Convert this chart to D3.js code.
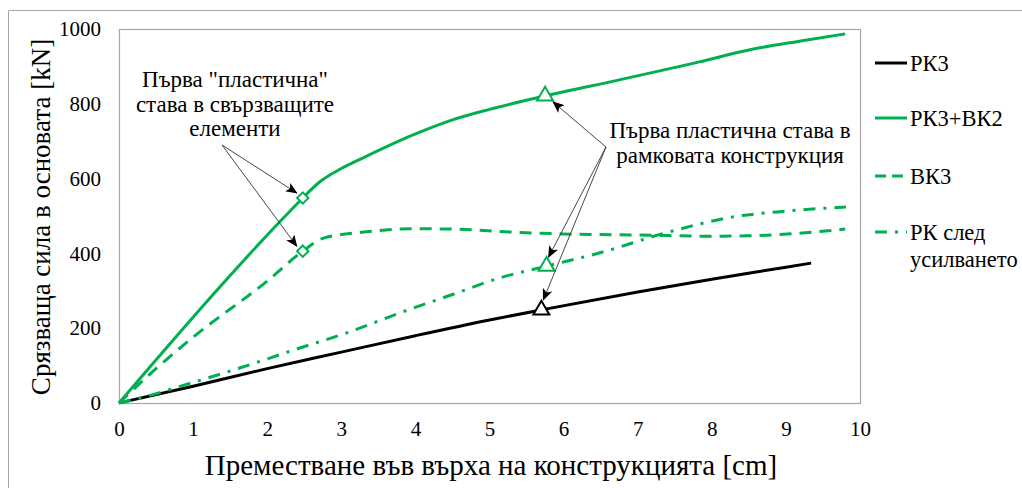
<!DOCTYPE html>
<html>
<head>
<meta charset="utf-8">
<script src="https://cdn.jsdelivr.net/npm/d3@7/dist/d3.min.js"></script>
</head>
<body style="margin:0;background:#fff">
<svg id="chart" width="1022" height="488" style="display:block"></svg>
<script>
// Base shear vs. top displacement for the frame variants
const xTicks = [0, 1, 2, 3, 4, 5, 6, 7, 8, 9, 10];
const yTicks = [0, 200, 400, 600, 800, 1000];

const seriesNames = ["РК3", "РК3+ВК2", "ВК3", "РК след усилването"];

// РК3 (bare frame)
const rk3X = [0, 1, 2, 3, 4, 5, 5.7, 7, 8, 9, 9.34];
const rk3Y = [0, 45, 92, 136, 180, 222, 249, 297, 331, 363, 374];

// РК3+ВК2 (frame with braces)
const rkbkX = [0, 2.48, 2.6, 2.72, 2.84, 3.0, 3.3, 3.96, 4.5, 5.0, 5.75, 6.75, 7.83, 8.5, 9.2, 9.8];
const rkbkY = [0, 548, 572, 593, 609, 627, 656, 716, 757, 785, 821, 864, 912, 944, 968, 987];

// ВК3 (braces only)
const bkX = [0, 0.5, 1, 2, 2.48, 2.75, 3.3, 4.0, 4.5, 5.3, 6.0, 7.0, 8.0, 8.5, 9.8];
const bkY = [0, 92, 176, 326, 406, 440, 457, 466, 465, 457, 452, 449, 446, 447, 465];

// РК след усилването (frame share after strengthening)
const rkAfterX = [0, 0.28, 1, 1.54, 2.44, 3.11, 3.79, 4.5, 5.13, 5.77, 6.48, 7.38, 8.27, 9.0, 9.81];
const rkAfterY = [0, 13, 55, 88, 147, 190, 241, 290, 334, 366, 401, 455, 497, 513, 524];

// Event markers
const diamondX = [2.48, 2.48];
const diamondY = [548, 406];
const triangleX = [5.75, 5.77, 5.7];
const triangleY = [821, 366, 249];
const triangleColor = ["#00b050", "#00b050", "#000000"];

const GREEN = "#00b050";
const FONT = '"Liberation Serif", "Times New Roman", Tinos, serif';
const svg = d3.select("#chart").style("font-family", FONT);

function txt(sel) {
  return sel.attr("font-family", "Liberation Serif").style("font-family", FONT);
}

// outer frame
svg.append("path")
  .attr("d", "M8.5,488 V10.5 H1022")
  .attr("fill", "none").attr("stroke", "#a6a6a6").attr("stroke-width", 1);

const x = d3.scaleLinear().domain([0, 10]).range([119, 860]);
const y = d3.scaleLinear().domain([0, 1000]).range([403, 29]);

// plot area border
svg.append("rect")
  .attr("x", x(0) + 0.5).attr("y", y(1000) + 0.5)
  .attr("width", x(10) - x(0)).attr("height", y(0) - y(1000))
  .attr("fill", "none").attr("stroke", "#a6a6a6").attr("stroke-width", 1.2);

// axes
const xAxis = svg.append("g").attr("transform", `translate(0,${y(0)})`)
  .call(d3.axisBottom(x).tickValues(xTicks).tickSize(0).tickPadding(18).tickFormat(d3.format("d")));
const yAxis = svg.append("g").attr("transform", `translate(${x(0)},0)`)
  .call(d3.axisLeft(y).tickValues(yTicks).tickSize(0).tickPadding(18).tickFormat(d3.format("d")));
[xAxis, yAxis].forEach(g => {
  g.select(".domain").remove();
  txt(g);
  txt(g.selectAll("text").attr("font-size", 21).attr("fill", "#000"));
});

// axis titles
txt(svg.append("text"))
  .attr("x", 491).attr("y", 475)
  .attr("text-anchor", "middle").attr("font-size", 29)
  .text("Преместване във върха на конструкцията [cm]");
txt(svg.append("text"))
  .attr("transform", "translate(44,217) rotate(-90)")
  .attr("text-anchor", "middle").attr("dominant-baseline", "middle")
  .attr("font-size", 27)
  .text("Срязваща сила в основата [kN]");

const line = d3.line().x(d => x(d[0])).y(d => y(d[1])).curve(d3.curveMonotoneX);
const zip = (xs, ys) => xs.map((v, i) => [v, ys[i]]);

const series = [
  { pts: zip(rk3X, rk3Y), color: "#000", dash: null },
  { pts: zip(rkbkX, rkbkY), color: GREEN, dash: null },
  { pts: zip(bkX, bkY), color: GREEN, dash: "12,8" },
  { pts: zip(rkAfterX, rkAfterY), color: GREEN, dash: "12,8,3,8" }
];

series.forEach(s => {
  svg.append("path")
    .attr("d", line(s.pts))
    .attr("fill", "none")
    .attr("stroke", s.color)
    .attr("stroke-width", 3)
    .attr("stroke-dasharray", s.dash);
});

// diamond markers
diamondX.forEach((dx, i) => {
  svg.append("path")
    .attr("d", d3.symbol().type(d3.symbolSquare).size(64)())
    .attr("transform", `translate(${x(dx)},${y(diamondY[i])}) rotate(45)`)
    .attr("fill", "#fff").attr("stroke", GREEN).attr("stroke-width", 2);
});

// triangle markers
triangleX.forEach((tx, i) => {
  svg.append("path")
    .attr("d", d3.symbol().type(d3.symbolTriangle).size(110)())
    .attr("transform", `translate(${x(tx)},${y(triangleY[i])})`)
    .attr("fill", "#fff").attr("stroke", triangleColor[i]).attr("stroke-width", 2);
});

// arrowhead
const defs = svg.append("defs");
defs.append("marker")
  .attr("id", "arrow").attr("viewBox", "0 0 12 10")
  .attr("refX", 11).attr("refY", 5)
  .attr("markerWidth", 12).attr("markerHeight", 10)
  .attr("markerUnits", "userSpaceOnUse")
  .attr("orient", "auto")
  .append("path").attr("d", "M0,0 L12,5 L0,10 L3,5 Z").attr("fill", "#000");

function arrow(x1, y1, x2, y2) {
  svg.append("line")
    .attr("x1", x1).attr("y1", y1).attr("x2", x2).attr("y2", y2)
    .attr("stroke", "#333").attr("stroke-width", 0.9)
    .attr("marker-end", "url(#arrow)");
}

// annotation: first plastic hinge in braces
const noteA = ["Първа \"пластична\"", "става в свързващите", "елементи"];
txt(svg.append("text")).attr("text-anchor", "middle").attr("font-size", 23)
  .selectAll("tspan").data(noteA).join("tspan")
  .attr("x", 235).attr("y", (d, i) => 87 + i * 24.5).text(d => d);
arrow(222, 145, x(diamondX[0]) - 6, y(diamondY[0]) - 5);
arrow(222, 145, x(diamondX[1]) - 6, y(diamondY[1]) - 5);

// annotation: first plastic hinge in frame
const noteB = ["Първа пластична става в", "рамковата конструкция"];
txt(svg.append("text")).attr("text-anchor", "middle").attr("font-size", 23)
  .selectAll("tspan").data(noteB).join("tspan")
  .attr("x", 730).attr("y", (d, i) => 138 + i * 25).text(d => d);
arrow(606, 147, x(triangleX[0]) + 8, y(triangleY[0]) + 6);
arrow(606, 147, x(triangleX[1]) + 2, y(triangleY[1]) - 9);
arrow(606, 147, x(triangleX[2]) + 2, y(triangleY[2]) - 10);

// legend
const legendY = [63, 118, 176, 232];
const legendDash = [null, null, "11,6", "12,8,3,8"];
const legendColor = ["#000", GREEN, GREEN, GREEN];
seriesNames.forEach((name, i) => {
  svg.append("line")
    .attr("x1", 875).attr("x2", 907)
    .attr("y1", legendY[i]).attr("y2", legendY[i])
    .attr("stroke", legendColor[i]).attr("stroke-width", 3)
    .attr("stroke-dasharray", legendDash[i]);
  const words = i === 3 ? ["РК след", "усилването"] : [name];
  txt(svg.append("text")).attr("font-size", 22.5)
    .selectAll("tspan").data(words).join("tspan")
    .attr("x", 910).attr("y", (d, j) => legendY[i] + 8 + j * 27).text(d => d);
});
</script>
</body>
</html>
